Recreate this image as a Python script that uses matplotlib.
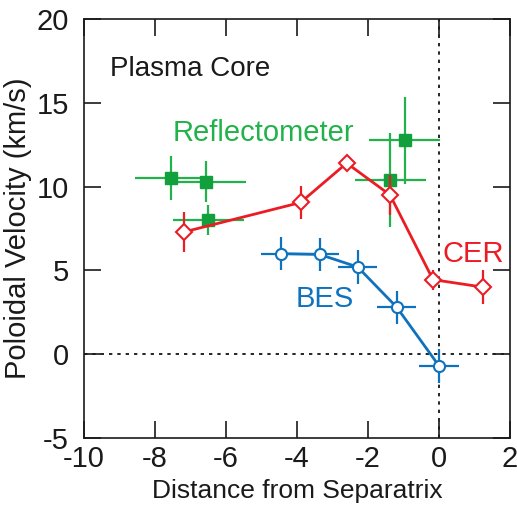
import matplotlib.pyplot as plt

plt.rcParams['font.family'] = ['Liberation Sans', 'DejaVu Sans']
plt.rcParams['axes.unicode_minus'] = False

# CER (red, open diamonds)
cer_x = [-7.17, -3.9, -2.6, -1.38, -0.17, 1.24]
cer_y = [7.3, 9.05, 11.4, 9.5, 4.45, 4.0]
cer_yerr = [1.2, 1.0, 0.0, 1.2, 0.6, 1.0]

# BES (blue, open circles)
bes_x = [-4.46, -3.36, -2.29, -1.19, 0.0]
bes_y = [6.0, 5.95, 5.2, 2.8, -0.7]
bes_xerr = [0.55, 0.55, 0.55, 0.55, 0.55]
bes_yerr = [1.0, 1.0, 1.0, 1.0, 1.0]

# Reflectometer (green, filled squares)
ref_x = [-7.55, -6.55, -6.5, -1.38, -0.96]
ref_y = [10.5, 10.3, 8.0, 10.4, 12.75]
ref_xerr = [1.0, 1.1, 1.0, 1.0, 1.0]
ref_yerr = [1.3, 1.2, 0.9, 2.8, 2.6]

red = '#ec1c24'
blue = '#0f72bd'
green = '#22b24c'
dgreen = '#12a03c'
ink = '#1a1a1a'

fig = plt.figure(figsize=(5.17, 5.12), dpi=100)
ax = fig.add_axes([0.1625, 0.1445, 0.824, 0.8185])

ax.axhline(0, color='black', lw=1.2, ls=(0, (2, 3)), zorder=1)
ax.axvline(0, color='black', lw=1.2, ls=(0, (2, 3)), zorder=1)

ax.errorbar(ref_x, ref_y, xerr=ref_xerr, yerr=ref_yerr, fmt='s', color=green,
            mfc=dgreen, mec=dgreen, ms=8, elinewidth=1.6, capsize=0, zorder=3)

ax.errorbar(cer_x, cer_y, yerr=cer_yerr, fmt='-D', color=red, mfc='white',
            mec=red, ms=8.5, mew=1.5, lw=2, elinewidth=1.6, capsize=0, zorder=4)

ax.errorbar(bes_x, bes_y, xerr=bes_xerr, yerr=bes_yerr, fmt='-o', color=blue,
            mfc='white', mec=blue, ms=8, mew=1.5, lw=2, elinewidth=1.6,
            capsize=0, zorder=5)

ax.text(-9.27, 16.6, 'Plasma Core', fontsize=20, color=ink)
ax.text(-7.5, 12.7, 'Reflectometer', fontsize=21, color=green)
ax.text(0.11, 5.5, 'CER', fontsize=21, color=red)
ax.text(-4.04, 2.8, 'BES', fontsize=21, color=blue)

ax.set_xlim(-10, 2)
ax.set_ylim(-5, 20)
ax.set_xticks([-10, -8, -6, -4, -2, 0, 2])
ax.set_yticks([-5, 0, 5, 10, 15, 20])
ax.tick_params(direction='in', length=12, width=1.2, top=True, right=True,
               labelsize=21, colors=ink)
ax.tick_params(axis='x', pad=5)
ax.tick_params(axis='y', pad=11)
for s in ax.spines.values():
    s.set_linewidth(1.2)
    s.set_color(ink)

ax.set_xlabel('Distance from Separatrix', fontsize=19, color=ink, labelpad=4)
ax.set_ylabel('Poloidal Velocity (km/s)', fontsize=21, color=ink, labelpad=3)

plt.savefig('out.png', dpi=100)
